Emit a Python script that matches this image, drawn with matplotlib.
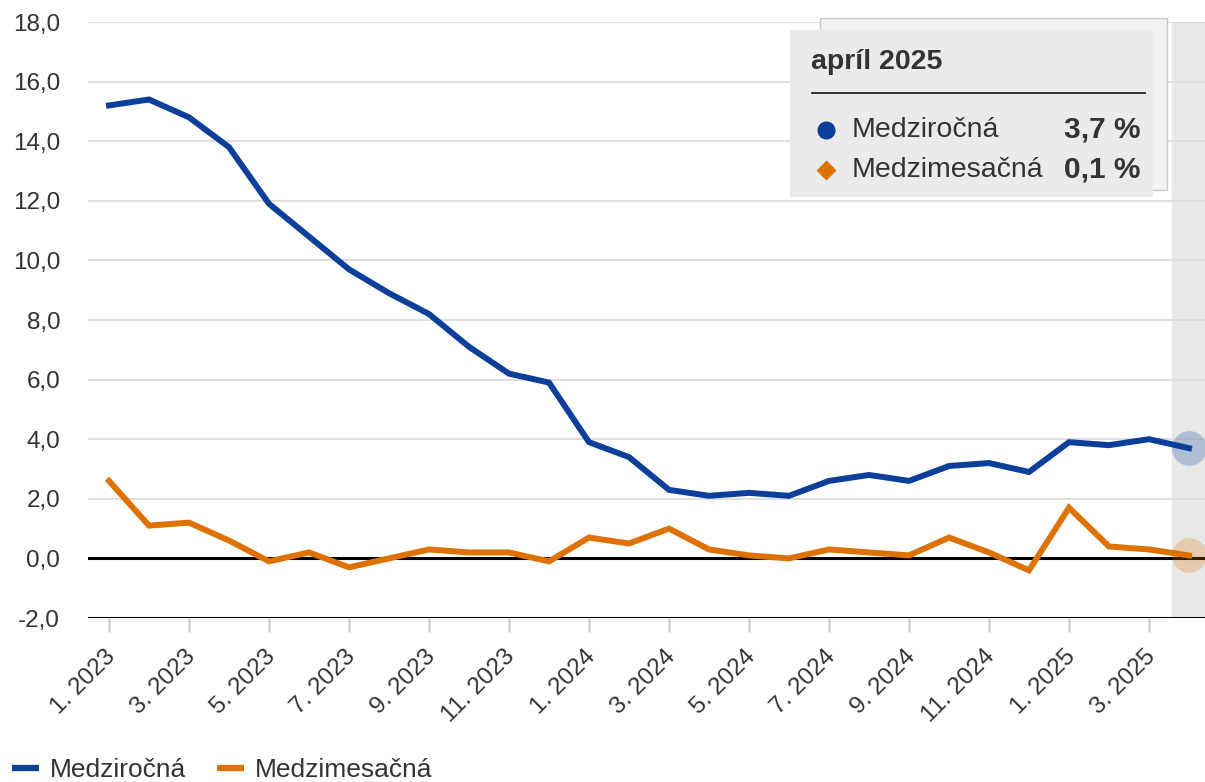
import matplotlib.pyplot as plt
import matplotlib.transforms as mtransforms
from matplotlib.patches import Rectangle
from matplotlib.lines import Line2D

plt.rcParams['font.family'] = ['Liberation Sans', 'DejaVu Sans']

# data
months = [f'{m}. {y}' for y in (2023, 2024, 2025) for m in range(1, 13)][:28]
medzirocna = [15.2, 15.4, 14.8, 13.8, 11.9, 10.8, 9.7, 8.9, 8.2, 7.1, 6.2, 5.9,
              3.9, 3.4, 2.3, 2.1, 2.2, 2.1, 2.6, 2.8, 2.6, 3.1, 3.2, 2.9,
              3.9, 3.8, 4.0, 3.7]
medzimesacna = [2.6, 1.1, 1.2, 0.6, -0.1, 0.2, -0.3, 0.0, 0.3, 0.2, 0.2, -0.1,
                0.7, 0.5, 1.0, 0.3, 0.1, 0.0, 0.3, 0.2, 0.1, 0.7, 0.2, -0.4,
                1.7, 0.4, 0.3, 0.1]
y_ticks = [-2, 0, 2, 4, 6, 8, 10, 12, 14, 16, 18]

BLUE = '#0b3f9a'
ORANGE = '#dd7202'
TXT = '#333333'

W, H = 1205, 782
fig = plt.figure(figsize=(W / 100, H / 100), dpi=100)
ax = fig.add_axes([88 / W, 1 - 618 / H, 1 - 88 / W, (618 - 22) / H])
x = list(range(len(months)))
last = x[-1]

ax.set_xlim(-0.525, 27.4)
ax.set_ylim(-2, 18)

# hover band
ax.axvspan(last - 0.43, last + 0.6, color='#e8e8e8', zorder=0)

for v in y_ticks:
    if v > 0:
        ax.axhline(v, color='#dcdcdc', lw=1.3, zorder=1)
ax.axhline(0, color='black', lw=2.2, zorder=2)
ax.axhline(-2, color='black', lw=2.2, zorder=2)

ax.plot(x, medzirocna, color=BLUE, lw=4.3, zorder=4, solid_joinstyle='miter')
ax.plot(x, medzimesacna, color=ORANGE, lw=4.3, zorder=4, solid_joinstyle='miter')
ax.plot([last], [medzirocna[-1]], 'o', ms=25, color=BLUE, alpha=0.25, mec='none', zorder=3)
ax.plot([last], [medzimesacna[-1]], 'o', ms=25, color=ORANGE, alpha=0.25, mec='none', zorder=3)

for s in ax.spines.values():
    s.set_visible(False)

ax.set_yticks(y_ticks)
ax.set_yticklabels([f'{v:.1f}'.replace('.', ',') for v in y_ticks], fontsize=17.5, color=TXT)
ax.tick_params(axis='y', length=0, pad=20)

ax.set_xticks(x[::2])
ax.set_xticklabels(months[::2], rotation=45, ha='right', rotation_mode='anchor',
                   fontsize=17.5, color=TXT)
ax.tick_params(axis='x', length=10, width=1.8, color='#d0d0d0', pad=10)
shift = mtransforms.ScaledTranslation(-5 / 100, 0, fig.dpi_scale_trans)
for lab in ax.get_xticklabels():
    lab.set_transform(lab.get_transform() + shift)

# tooltip
def fx(px):
    return px / W

def fy(py):
    return 1 - py / H

fig.patches.append(Rectangle((fx(820), fy(190)), fx(347), 172 / H, transform=fig.transFigure,
                             facecolor='#f2f2f2', edgecolor='#c8c8c8', lw=1, zorder=5))
fig.patches.append(Rectangle((fx(790), fy(197)), fx(363), 167 / H, transform=fig.transFigure,
                             facecolor='#ebebeb', edgecolor='none', zorder=6))
fig.text(fx(811), fy(62), 'apríl 2025', fontsize=20.5, fontweight='bold', color=TXT,
         va='center', ha='left', zorder=7)
fig.lines.append(Line2D([fx(812), fx(1145)], [fy(93), fy(93)], transform=fig.transFigure,
                        color='#222222', lw=1.3, zorder=7))
fig.lines.append(Line2D([fx(826)], [fy(130)], transform=fig.transFigure, marker='o',
                        ms=13, color=BLUE, mec='none', zorder=7))
fig.lines.append(Line2D([fx(826)], [fy(170)], transform=fig.transFigure, marker='D',
                        ms=10, color=ORANGE, mec='none', zorder=7))
fig.text(fx(852), fy(130), 'Medziročná', fontsize=20.5, color=TXT, va='center', zorder=7)
fig.text(fx(852), fy(170), 'Medzimesačná', fontsize=20.5, color=TXT, va='center', zorder=7)
fig.text(fx(1140), fy(130), f'{medzirocna[-1]:.1f} %'.replace('.', ','), fontsize=21.5,
         fontweight='bold', color=TXT, va='center', ha='right', zorder=7)
fig.text(fx(1140), fy(170), f'{medzimesacna[-1]:.1f} %'.replace('.', ','), fontsize=21.5,
         fontweight='bold', color=TXT, va='center', ha='right', zorder=7)

# legend
handles = [Line2D([], [], color=BLUE, lw=4.5, solid_capstyle='butt'),
           Line2D([], [], color=ORANGE, lw=4.5, solid_capstyle='butt')]
fig.legend(handles, ['Medziročná', 'Medzimesačná'], loc='lower left',
           bbox_to_anchor=(-0.01, -0.031), ncol=2, frameon=False, fontsize=19,
           handlelength=1.05, handletextpad=0.4, columnspacing=1.15, labelcolor=TXT)

fig.savefig('out.png', dpi=100)
